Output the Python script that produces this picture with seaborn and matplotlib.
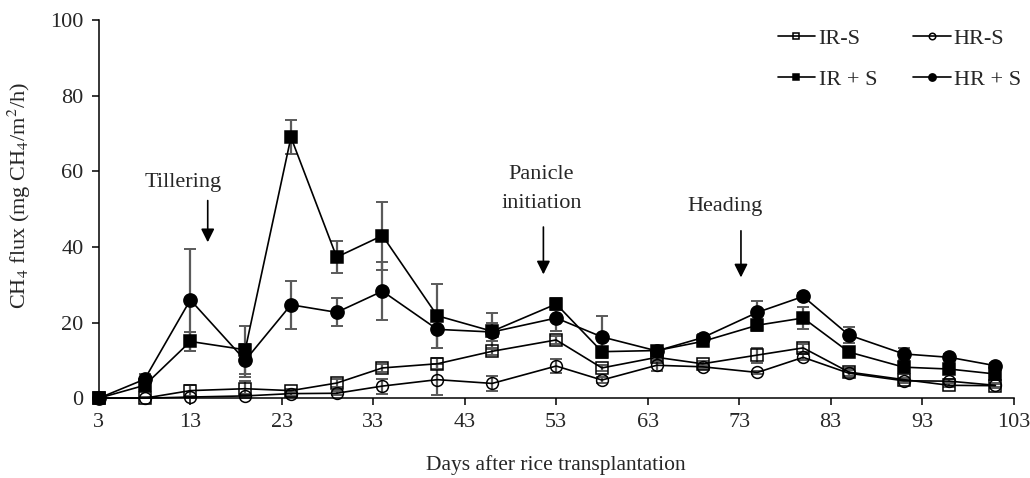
import numpy as np
import pandas as pd
import matplotlib
matplotlib.use("Agg")
import matplotlib.pyplot as plt
import seaborn as sns

days = [3, 8, 13, 19, 24, 29, 34, 40, 46, 53, 58, 64, 69, 75, 80, 85, 91, 96, 101]

ir_s = [0.0, 0.0, 2.0, 2.5, 2.0, 4.0, 8.0, 9.1, 12.4, 15.4, 8.0, 10.8, 9.1, 11.4, 13.3, 6.9, 4.9, 3.4, 3.3]
hr_s = [0.0, 0.0, 0.3, 0.6, 1.2, 1.3, 3.2, 4.9, 3.9, 8.5, 4.8, 8.7, 8.3, 6.8, 10.8, 6.6, 4.6, 4.5, 3.4]
ir_ps = [0.0, 3.4, 15.0, 12.8, 69.0, 37.3, 43.0, 21.8, 17.7, 24.9, 12.3, 12.6, 15.0, 19.3, 21.2, 12.2, 8.2, 7.7, 6.4]
hr_ps = [0.0, 5.0, 26.0, 10.0, 24.7, 22.7, 28.3, 18.2, 17.5, 21.2, 16.2, 12.5, 16.0, 22.7, 26.9, 16.7, 11.7, 10.8, 8.6]

ir_s_err = [0.2, 0.3, 1.5, 2.0, 0.5, 1.0, 1.0, 1.5, 1.0, 1.0, 0.8, 1.0, 0.8, 2.0, 1.0, 1.0, 0.5, 0.5, 0.5]
hr_s_err = [0.2, 0.3, 0.3, 0.5, 0.5, 0.5, 2.0, 4.1, 2.0, 1.8, 0.8, 1.5, 0.5, 0.5, 0.8, 0.8, 0.5, 0.5, 0.5]
ir_ps_err = [0.3, 1.5, 2.5, 6.3, 4.5, 4.2, 9.0, 8.5, 4.7, 1.6, 1.0, 1.0, 1.0, 1.5, 2.8, 1.0, 0.8, 0.8, 0.8]
hr_ps_err = [0.3, 1.5, 13.5, 4.3, 6.3, 3.7, 7.7, 4.9, 2.4, 3.4, 5.5, 1.0, 1.0, 3.0, 0.8, 2.0, 1.5, 0.8, 0.8]

series_names = ["IR-S", "IR + S", "HR-S", "HR + S"]
xticks = [3, 13, 23, 33, 43, 53, 63, 73, 83, 93, 103]
yticks = [0, 20, 40, 60, 80, 100]

sns.set_style("ticks")
plt.rcParams["font.family"] = ["Liberation Serif", "DejaVu Serif"]
plt.rcParams["mathtext.fontset"] = "stix"

FS = 16

fig = plt.figure(figsize=(10.3, 4.78), dpi=100)
ax = fig.add_axes([0.096, 0.167, 0.888, 0.791])

values = {"IR-S": ir_s, "IR + S": ir_ps, "HR-S": hr_s, "HR + S": hr_ps}
errors = {"IR-S": ir_s_err, "IR + S": ir_ps_err, "HR-S": hr_s_err, "HR + S": hr_ps_err}
markers = {"IR-S": "s", "IR + S": "s", "HR-S": "o", "HR + S": "o"}
faces = {"IR-S": "none", "IR + S": "black", "HR-S": "none", "HR + S": "black"}
msize = {"IR-S": 8, "IR + S": 9, "HR-S": 8.5, "HR + S": 9.5}

for name in series_names:
    ax.errorbar(days, values[name], yerr=errors[name], fmt="none",
                ecolor="#5a5a5a", elinewidth=1.6, capsize=4, capthick=1.4, zorder=2)

for name in ["HR-S", "IR-S", "HR + S", "IR + S"]:
    df = pd.DataFrame({"day": days, "flux": values[name]})
    sns.lineplot(data=df, x="day", y="flux", ax=ax, color="black", lw=1.2,
                 marker=markers[name], markersize=msize[name],
                 markerfacecolor=faces[name], markeredgecolor="black",
                 markeredgewidth=1.1, label=name, zorder=3, clip_on=False)

ax.set_xlim(3, 103)
ax.set_ylim(0, 100)
ax.set_xticks(xticks)
ax.set_yticks(yticks)
ax.tick_params(axis="both", labelsize=FS, direction="out", length=5, width=1.1, color="black", pad=6)
for s in ["left", "bottom"]:
    ax.spines[s].set_color("black")
    ax.spines[s].set_linewidth(1.1)
sns.despine(ax=ax)

ax.set_xlabel("Days after rice transplantation", fontsize=FS - 0.5, labelpad=16)
ax.set_ylabel("CH$_4$ flux (mg CH$_4$/m$^2$/h)", fontsize=FS)
ax.yaxis.set_label_coords(-0.072, 0.535)

arrow_kw = dict(arrowstyle="-|>,head_length=0.8,head_width=0.4", color="black", lw=1.2)
ax.annotate("", xy=(14.9, 40.5), xytext=(14.9, 53.0), arrowprops=arrow_kw)
ax.text(12.2, 57.0, "Tillering", fontsize=FS, ha="center", va="center")
ax.annotate("", xy=(51.6, 32.0), xytext=(51.6, 46.0), arrowprops=arrow_kw)
ax.text(51.4, 55.3, "Panicle\ninitiation", fontsize=FS, ha="center", va="center", linespacing=1.7)
ax.annotate("", xy=(73.2, 31.2), xytext=(73.2, 45.0), arrowprops=arrow_kw)
ax.text(71.5, 50.6, "Heading", fontsize=FS, ha="center", va="center")

h, l = ax.get_legend_handles_labels()
order = [l.index(n) for n in series_names]
leg = ax.legend([h[i] for i in order], [l[i] for i in order], ncol=2, loc="upper right",
                bbox_to_anchor=(1.03, 1.032), frameon=False, fontsize=FS, markerscale=0.55,
                handlelength=1.7, handletextpad=0.15, columnspacing=1.6, labelspacing=0.95)

fig.savefig("out.png", dpi=100)
